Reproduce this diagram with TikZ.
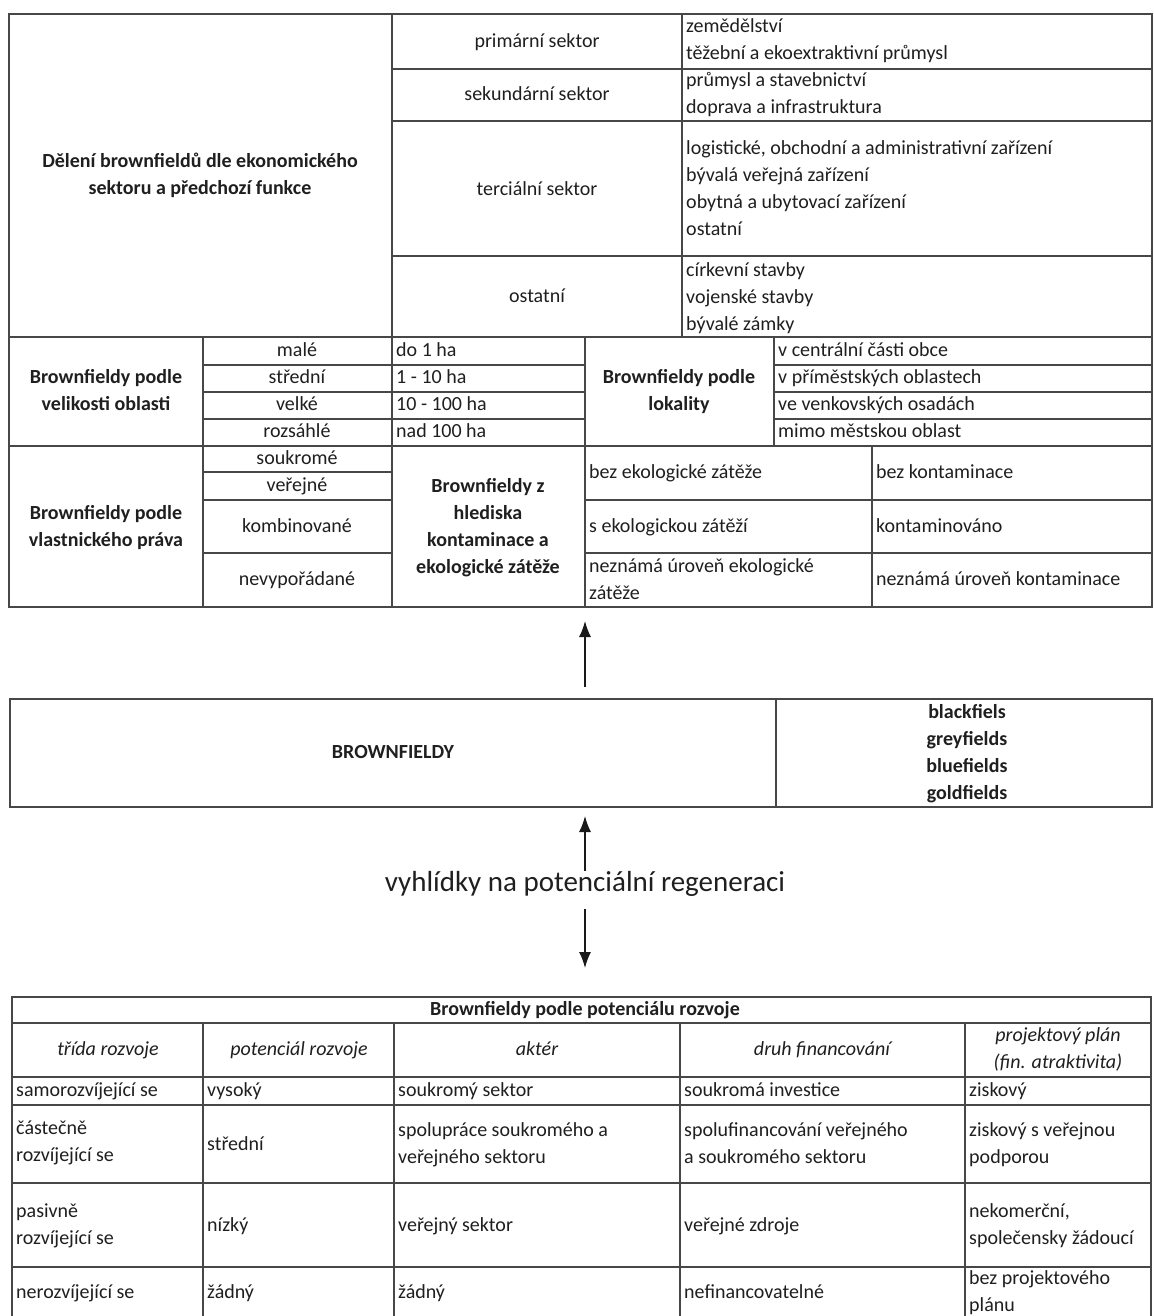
\documentclass[tikz,border=0pt]{standalone}
\usepackage{fontspec}
\setmainfont{Carlito}
\usetikzlibrary{arrows.meta}
\begin{document}
\begin{tikzpicture}[x=1pt,y=-1pt,
  ln/.style={line width=1.5pt, draw=black!72},
  thin/.style={line width=1.1pt, draw=black!72},
  txt/.style={font=\fontsize{20}{27}\selectfont, inner sep=0pt, text=black!88},
  lt/.style={txt, anchor=west, align=left},
  ct/.style={txt, align=center},
  bt/.style={ct, font=\fontsize{20}{27}\selectfont\bfseries},
  it/.style={ct, font=\fontsize{20}{27}\selectfont\itshape},
  arr/.style={line width=1.4pt, draw=black!90, -{Latex[length=16pt,width=12pt]}}
]
\useasboundingbox (0,0) rectangle (1153,1316);
\fill[white] (0,0) rectangle (1153,1316);

% ---------- Section A: economic sector ----------
\draw[ln] (9,14) rectangle (1152,337);
\draw[ln] (392,14) -- (392,337) (682,14) -- (682,337);
\draw[ln] (392,69) -- (1152,69) (392,121) -- (1152,121) (392,256) -- (1152,256);

\node[bt] (secA) at (200,176) {\strut Dělení brownfieldů dle ekonomického\\\strut sektoru a předchozí funkce};
\node[ct] (prim) at (537,42) {\strut primární sektor};
\node[ct] (seku) at (537,95) {\strut sekundární sektor};
\node[ct] (terc) at (537,190) {\strut terciální sektor};
\node[ct] (osta) at (537,297) {\strut ostatní};
\node[lt] (primv) at (686,41) {\strut zemědělství\\\strut těžební a ekoextraktivní průmysl};
\node[lt] (sekuv) at (686,95) {\strut průmysl a stavebnictví\\\strut doprava a infrastruktura};
\node[lt] (tercv) at (686,190) {\strut logistické, obchodní a administrativní zařízení\\\strut bývalá veřejná zařízení\\\strut obytná a ubytovací zařízení\\\strut ostatní};
\node[lt] (ostav) at (686,298) {\strut církevní stavby\\\strut vojenské stavby\\\strut bývalé zámky};

% ---------- Sections B and C ----------
\draw[ln] (9,337) rectangle (1152,607);
\draw[ln] (9,446) -- (1152,446);
\draw[ln] (203,337) -- (203,607) (392,337) -- (392,607) (585,337) -- (585,607)
          (774,337) -- (774,446) (872,446) -- (872,607);
\draw[ln] (203,365) -- (585,365) (203,392) -- (585,392) (203,419) -- (585,419);
\draw[ln] (774,365) -- (1152,365) (774,392) -- (1152,392) (774,419) -- (1152,419);
\draw[ln] (203,472) -- (392,472) (203,500) -- (392,500) (203,553) -- (392,553);
\draw[ln] (585,500) -- (1152,500) (585,553) -- (1152,553);

\node[bt] (vel) at (106,392) {\strut Brownfieldy podle\\\strut velikosti oblasti};
\node[ct] (v1) at (297,351) {\strut malé};
\node[ct] (v2) at (297,378) {\strut střední};
\node[ct] (v3) at (297,405) {\strut velké};
\node[ct] (v4) at (297,432) {\strut rozsáhlé};
\node[lt] (h1) at (396,351) {\strut do 1 ha};
\node[lt] (h2) at (396,378) {\strut 1 - 10 ha};
\node[lt] (h3) at (396,405) {\strut 10 - 100 ha};
\node[lt] (h4) at (396,432) {\strut nad 100 ha};
\node[bt] (lok) at (679,392) {\strut Brownfieldy podle\\\strut lokality};
\node[lt] (l1) at (778,351) {\strut v centrální části obce};
\node[lt] (l2) at (778,378) {\strut v příměstských oblastech};
\node[lt] (l3) at (778,405) {\strut ve venkovských osadách};
\node[lt] (l4) at (778,432) {\strut mimo městskou oblast};

\node[bt] (vla) at (106,528) {\strut Brownfieldy podle\\\strut vlastnického práva};
\node[ct] (o1) at (297,459) {\strut soukromé};
\node[ct] (o2) at (297,486) {\strut veřejné};
\node[ct] (o3) at (297,527) {\strut kombinované};
\node[ct] (o4) at (297,580) {\strut nevypořádané};
\node[bt] (kon) at (488,528) {\strut Brownfieldy z\\\strut hlediska\\\strut kontaminace a\\\strut ekologické zátěže};
\node[lt] (e1) at (589,473) {\strut bez ekologické zátěže};
\node[lt] (e2) at (589,527) {\strut s ekologickou zátěží};
\node[lt] (e3) at (589,581) {\strut neznámá úroveň ekologické\\\strut zátěže};
\node[lt] (k1) at (876,473) {\strut bez kontaminace};
\node[lt] (k2) at (876,527) {\strut kontaminováno};
\node[lt] (k3) at (876,580) {\strut neznámá úroveň kontaminace};

% ---------- Middle box ----------
\draw[ln] (10,699) rectangle (1152,807);
\draw[thin] (776,699) -- (776,807);
\node[bt] (bf) at (393,753) {\strut BROWNFIELDY};
\node[bt] (bftypes) at (967,754) {\strut blackfiels\\\strut greyfields\\\strut bluefields\\\strut goldfields};

% ---------- Arrows and caption ----------
\node[txt, font=\fontsize{29}{35}\selectfont] (vyh) at (585,884) {\strut vyhlídky na potenciální regeneraci};
\coordinate (t1) at (585,621);
\coordinate (b1) at (585,687);
\coordinate (t2) at (585,816);
\coordinate (b2) at (585,871);
\coordinate (t3) at (585,909);
\coordinate (b3) at (585,968);
\draw[arr] (b1) -- (t1);
\draw[arr] (b2) -- (t2);
\draw[arr] (t3) -- (b3);

% ---------- Bottom table ----------
\draw[ln] (12,1316) -- (12,997) -- (1151,997) -- (1151,1316);
\draw[ln] (12,1023) -- (1151,1023) (12,1077) -- (1151,1077) (12,1105) -- (1151,1105)
          (12,1183) -- (1151,1183) (12,1267) -- (1151,1267);
\draw[ln] (203,1023) -- (203,1316) (394,1023) -- (394,1316) (680,1023) -- (680,1316) (965,1023) -- (965,1316);

\node[bt] (pot) at (585,1010) {\strut Brownfieldy podle potenciálu rozvoje};
\node[it] (c1) at (108,1050) {\strut třída rozvoje};
\node[it] (c2) at (299,1050) {\strut potenciál rozvoje};
\node[it] (c3) at (537,1050) {\strut aktér};
\node[it] (c4) at (822,1050) {\strut druh financování};
\node[it] (c5) at (1058,1050) {\strut projektový plán\\\strut (fin. atraktivita)};

\node[lt] (r1a) at (16,1091) {\strut samorozvíjející se};
\node[lt] (r1b) at (207,1091) {\strut vysoký};
\node[lt] (r1c) at (398,1091) {\strut soukromý sektor};
\node[lt] (r1d) at (684,1091) {\strut soukromá investice};
\node[lt] (r1e) at (969,1091) {\strut ziskový};

\node[lt] (r2a) at (16,1143) {\strut částečně\\\strut rozvíjející se};
\node[lt] (r2b) at (207,1145) {\strut střední};
\node[lt] (r2c) at (398,1145) {\strut spolupráce soukromého a\\\strut veřejného sektoru};
\node[lt] (r2d) at (684,1145) {\strut spolufinancování veřejného\\\strut a soukromého sektoru};
\node[lt] (r2e) at (969,1145) {\strut ziskový s veřejnou\\\strut podporou};

\node[lt] (r3a) at (16,1226) {\strut pasivně\\\strut rozvíjející se};
\node[lt] (r3b) at (207,1226) {\strut nízký};
\node[lt] (r3c) at (398,1226) {\strut veřejný sektor};
\node[lt] (r3d) at (684,1226) {\strut veřejné zdroje};
\node[lt] (r3e) at (969,1226) {\strut nekomerční,\\\strut společensky žádoucí};

\node[lt] (r4a) at (16,1293) {\strut nerozvíjející se};
\node[lt] (r4b) at (207,1293) {\strut žádný};
\node[lt] (r4c) at (398,1293) {\strut žádný};
\node[lt] (r4d) at (684,1293) {\strut nefinancovatelné};
\node[lt] (r4e) at (969,1293) {\strut bez projektového\\\strut plánu};
\end{tikzpicture}
\end{document}
